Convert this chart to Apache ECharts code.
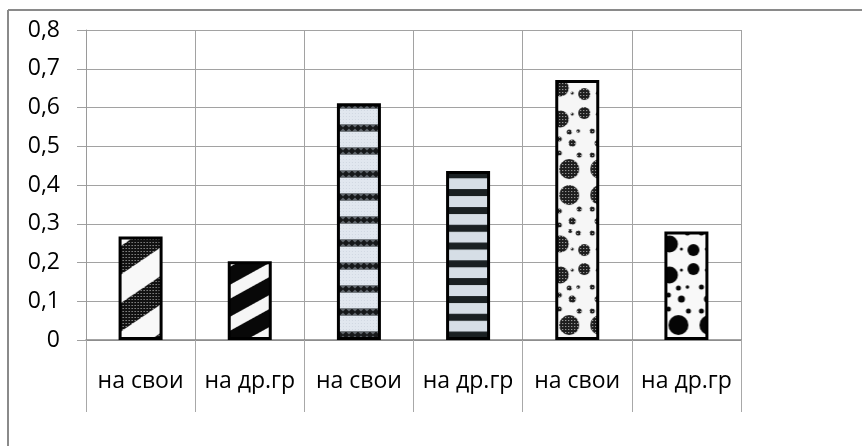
<!DOCTYPE html>
<html>
<head>
<meta charset="utf-8">
<script src="https://cdn.jsdelivr.net/npm/echarts@6/dist/echarts.min.js"></script>
<style>
  html, body { margin: 0; padding: 0; background: #fff; }
  #chart { width: 862px; height: 446px; }
</style>
</head>
<body>
<div id="chart"></div>
<script>
// Chart data
const categories = ['на свои', 'на др.гр', 'на свои', 'на др.гр', 'на свои', 'на др.гр'];
const values = [0.267, 0.203, 0.611, 0.436, 0.671, 0.280];
const yTickLabels = ['0', '0,1', '0,2', '0,3', '0,4', '0,5', '0,6', '0,7', '0,8'];

const BAR_WIDTH = 44;
const FONT = '"Open Sans", "Noto Sans", sans-serif';

// ---------- fill textures for the bars ----------
const mod = (a, n) => ((a % n) + n) % n;
function makeCanvas(w, h) {
  const c = document.createElement('canvas');
  c.width = w; c.height = h;
  return c;
}
// Builds a tile pixel by pixel; u runs right from the bar's left edge,
// d runs up from the baseline (tile row 0 sits on the baseline).
function pixelTile(W, H, shade, ss) {
  const c = makeCanvas(W, H), ctx = c.getContext('2d');
  const img = ctx.createImageData(W, H);
  for (let ty = 0; ty < H; ty++) {
    for (let tx = 0; tx < W; tx++) {
      let r = 0, g = 0, b = 0;
      for (let sy = 0; sy < ss; sy++) {
        for (let sx = 0; sx < ss; sx++) {
          const u = tx + (sx + 0.5) / ss;
          const d = H - (ty + (sy + 0.5) / ss);
          const col = shade(u, d, tx, ty);
          r += col[0]; g += col[1]; b += col[2];
        }
      }
      const n = ss * ss, k = (ty * W + tx) * 4;
      img.data[k] = r / n; img.data[k + 1] = g / n; img.data[k + 2] = b / n; img.data[k + 3] = 255;
    }
  }
  ctx.putImageData(img, 0, 0);
  return c;
}

// 1: wide diagonal bands, dark mesh on white
function tileMeshDiagonal() {
  const W = 84, H = 57, s = H / W;
  return pixelTile(W, H, (u, d, tx, ty) => {
    const f = mod(d - s * u - 7, H);
    if (f < H / 2) return (tx % 3 === 1 && ty % 3 === 1) ? [190, 190, 190] : [18, 18, 18];
    return [248, 248, 248];
  }, 3);
}
// 2: black and white diagonal stripes
function tileBlackDiagonal() {
  const H = 32, s = 0.55, W = Math.round(H / s);
  const sl = H / W;
  return pixelTile(W, H, (u, d) => mod(d - sl * u - 8, H) < 14 ? [246, 246, 246] : [8, 8, 8], 3);
}
// 3: light bands with dotted dark bands
function tileDottedBands() {
  return pixelTile(6, 23, (u, d, tx, ty) => {
    const p = mod(d - 1, 23);
    if (p < 8) {
      if (p < 1 || p > 7) return [120, 126, 132];
      const dx = mod(u, 6) - 3, dy = p - 4;
      if (Math.abs(dx) + Math.abs(dy) < 3.4) return [22, 24, 26];
      return [96, 102, 108];
    }
    return (tx % 3 === 0 && ty % 3 === 0) ? [208, 216, 226] : [225, 231, 239];
  }, 3);
}
// 4: black and light-blue horizontal stripes
function tileBlackBands() {
  return pixelTile(2, 89, (u, d) => mod(d - 1.5, 17.8) < 7 ? [26, 32, 34] : [214, 222, 230], 4);
}

// Dot layout shared by the two spotted fills (u, d, radius)
const dotLayout = [
  [14, 15, 10], [45, 15, 10], [14, 145, 10], [45, 145, 10],
  [5, 65, 8.5], [5, 96, 8.5], [29, 71, 6], [29, 90, 6],
  [17, 41, 3.5], [43, 41, 3.5], [17, 119, 3.5], [43, 119, 3.5],
  [14, 52, 2.5], [23, 53, 1.8], [37, 53, 2.5], [15, 109, 2], [23, 107, 2.5], [37, 107, 2.5],
  [4, 45, 2.5], [4, 115, 2.5],
  [4, 31, 2.5], [24, 29, 2.5], [37, 29, 2.5], [4, 129, 2.5], [24, 131, 2.5], [37, 131, 2.5],
  [17, 91, 1.5], [42, 91, 1.5], [17, 70, 1.5], [42, 70, 1.5]
];
function dotTile(bg, fill, blur) {
  const W = 64, H = 156;
  const c = makeCanvas(W, H), ctx = c.getContext('2d');
  ctx.fillStyle = bg;
  ctx.fillRect(0, 0, W, H);
  if (blur) ctx.filter = 'blur(' + blur + 'px)';
  ctx.fillStyle = typeof fill === 'function' ? fill(ctx) : fill;
  for (const [u, d, r] of dotLayout) {
    for (const k of [-1, 0, 1]) {
      ctx.beginPath();
      ctx.arc(u, H - d + k * H, r, 0, Math.PI * 2);
      ctx.fill();
    }
  }
  return c;
}
function meshFill(ctx) {
  const m = makeCanvas(3, 3), mc = m.getContext('2d');
  mc.fillStyle = '#1e1e1e'; mc.fillRect(0, 0, 3, 3);
  mc.fillStyle = '#c4c4c4'; mc.fillRect(1, 1, 1, 1);
  return ctx.createPattern(m, 'repeat');
}

const tiles = [
  tileMeshDiagonal(),
  tileBlackDiagonal(),
  tileDottedBands(),
  tileBlackBands(),
  dotTile('#f6f6f6', meshFill, 0.4),
  dotTile('#f8f8f8', '#050505', 0.7)
];

// ---------- chart ----------
const chart = echarts.init(document.getElementById('chart'), null, { renderer: 'canvas' });

const axisFont = { color: '#000', fontFamily: FONT, fontSize: 23 };

const option = {
  animation: false,
  backgroundColor: '#ffffff',
  grid: { left: 86, right: 121, top: 30, bottom: 106, containLabel: false, outerBoundsMode: 'none' },
  xAxis: {
    type: 'category',
    data: categories,
    boundaryGap: true,
    axisLine: { show: true, lineStyle: { color: '#868686', width: 1.5 } },
    axisTick: { show: true, length: 72, interval: 0, lineStyle: { color: '#a8a8a8', width: 1 } },
    axisLabel: Object.assign({ interval: 0, margin: 30 }, axisFont),
    splitLine: { show: true, interval: 0, lineStyle: { color: '#a2a2a2', width: 1 } }
  },
  yAxis: {
    type: 'value',
    min: 0,
    max: 0.8,
    interval: 0.1,
    axisLine: { show: true, lineStyle: { color: '#9a9a9a', width: 1 } },
    axisTick: { show: true, length: 9, lineStyle: { color: '#a0a0a0', width: 1 } },
    axisLabel: Object.assign({
      margin: 26,
      formatter: (v) => yTickLabels[Math.round(v * 10)]
    }, axisFont),
    splitLine: { show: true, lineStyle: { color: '#a2a2a2', width: 1 } }
  },
  series: [{
    type: 'bar',
    barWidth: BAR_WIDTH,
    data: values.map((v) => ({ value: v })),
    itemStyle: { color: '#888', borderColor: '#000', borderWidth: 3 },
    emphasis: { disabled: true }
  }],
  graphic: [
    { type: 'line', silent: true, z: 100, shape: { x1: 8, y1: 10, x2: 900, y2: 10 }, style: { stroke: '#8a8a8a', lineWidth: 2 } },
    { type: 'line', silent: true, z: 100, shape: { x1: 8, y1: 10, x2: 8, y2: 500 }, style: { stroke: '#8a8a8a', lineWidth: 2 } }
  ]
};
chart.setOption(option);

// Anchor each texture on its own bar (left edge, baseline)
const patterned = values.map((v, i) => {
  const p = chart.convertToPixel({ gridIndex: 0 }, [i, 0]);
  return {
    value: v,
    itemStyle: {
      color: { image: tiles[i], repeat: 'repeat', x: p[0] - BAR_WIDTH / 2, y: p[1] }
    }
  };
});
chart.setOption({ series: [{ data: patterned }] });
</script>
</body>
</html>
